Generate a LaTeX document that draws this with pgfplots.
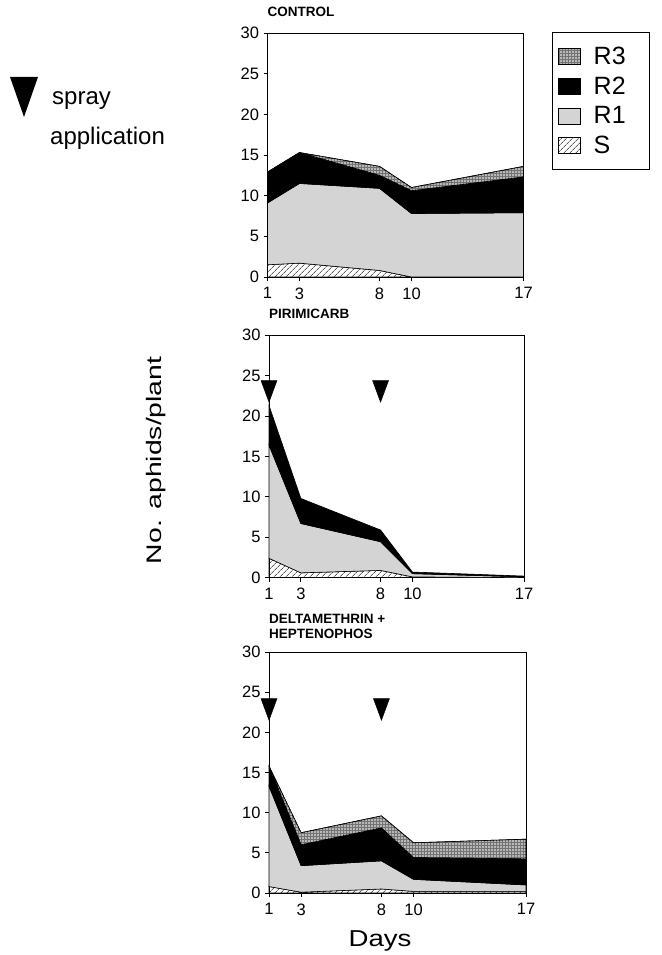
\documentclass[border=0pt]{standalone}
\usepackage{fontspec}
\setmainfont{Liberation Sans}
\usepackage{pgfplots}
\pgfplotsset{compat=1.18}
\usetikzlibrary{patterns,patterns.meta}

\pgfplotsset{
  panel/.style={
    scale only axis,
    xmin=1, xmax=17, ymin=0, ymax=30,
    xtick={1,3,8,10,17}, ytick={0,5,...,30},
    tick align=outside, tick pos=left, major tick length=4pt,
    clip=false,
    axis line style={line width=0.9pt},
    tick style={line width=0.8pt, black},
    tick label style={font=\fontsize{16.5}{17}\selectfont},
    xticklabel style={yshift=-3pt},
    yticklabel style={xshift=-1pt},
    /pgf/number format/assume math mode=true,
    title style={at={(0,1)}, anchor=south west, inner sep=0pt, yshift=10pt,
      font=\bfseries\fontsize{13.5}{15}\selectfont, align=left},
    legend image code/.code={\draw[##1, line width=0.6pt] (0pt,-8pt) rectangle (22pt,8pt);},
  },
  sS/.style={stack plots=y, draw=black, line width=0.6pt,
    pattern={Lines[angle=45,distance=4pt,line width=0.5pt]}},
  sR1/.style={stack plots=y, draw=black, line width=0.6pt, fill=black!17},
  sR2/.style={stack plots=y, draw=black, line width=0.6pt, fill=black},
  sR3/.style={stack plots=y, draw=black, line width=0.6pt, fill=black!55,
    postaction={pattern={Dots[distance=3pt,radius=0.85pt]}, pattern color=white}},
  spray/.style={only marks, mark=triangle*, mark size=14.5pt,
    mark options={rotate=180, xscale=0.64, fill=black, draw=black}},
}

\begin{document}
\begin{tikzpicture}
\path[use as bounding box] (0pt,0pt) rectangle (661pt,955pt);

% spray application key
\fill (10pt,878pt) -- (38pt,878pt) -- (24pt,838pt) -- cycle;
\node[anchor=base west, inner sep=0pt, font=\fontsize{24}{26}\selectfont] at (52pt,850pt) {spray};
\node[anchor=base west, inner sep=0pt, font=\fontsize{24}{26}\selectfont] at (50pt,810pt) {application};

% CONTROL
\begin{axis}[panel, at={(267.5pt,678pt)}, anchor=south west,
  width=256pt, height=244pt, title={CONTROL},
  legend style={at={(1,1)}, anchor=north west, xshift=28pt, yshift=1pt,
    draw=black, line width=1.2pt, font=\fontsize{25}{25}\selectfont,
    inner xsep=6pt, inner ysep=12pt, row sep=7pt,
    nodes={inner sep=2pt}, cells={anchor=west},
    /tikz/every odd column/.append style={column sep=11pt}},
  reverse legend]
\addplot[sS] coordinates {(1,1.5) (3,1.7) (8,0.8) (10,0) (17,0)} \closedcycle;
\addplot[sR1] coordinates {(1,7.6) (3,9.8) (8,10.1) (10,7.8) (17,7.9)} \closedcycle;
\addplot[sR2] coordinates {(1,3.8) (3,3.8) (8,1.6) (10,2.8) (17,4.4)} \closedcycle;
\addplot[sR3] coordinates {(1,0) (3,0) (8,1.1) (10,0.4) (17,1.3)} \closedcycle;
\legend{S,R1,R2,R3\hspace*{16pt}}
\end{axis}

% PIRIMICARB
\begin{axis}[panel, at={(269pt,377.3pt)}, anchor=south west,
  width=255pt, height=242.5pt, title={PIRIMICARB},
  ylabel={No. aphids/plant},
  ylabel style={at={(axis description cs:-0.421,0.484)}, anchor=base,
    font=\fontsize{21}{22}\selectfont, xscale=1.35}]
\addplot[sS] coordinates {(1,2.4) (3,0.6) (8,0.9) (10,0.1) (17,0)} \closedcycle;
\addplot[sR1] coordinates {(1,14.0) (3,6.1) (8,3.55) (10,0.4) (17,0.1)} \closedcycle;
\addplot[sR2] coordinates {(1,4.9) (3,3.1) (8,1.45) (10,0.2) (17,0.1)} \closedcycle;
\addplot[spray] coordinates {(1,23.5) (8,23.5)};
\end{axis}

% DELTAMETHRIN + HEPTENOPHOS
\begin{axis}[panel, at={(269pt,62pt)}, anchor=south west,
  width=257pt, height=241pt, title={DELTAMETHRIN +\\HEPTENOPHOS},
  title style={yshift=-3pt},
  xlabel={Days},
  xlabel style={at={(axis description cs:0.432,-0.22)}, anchor=base,
    font=\fontsize{23}{24}\selectfont, xscale=1.2}]
\addplot[sS] coordinates {(1,0.8) (3,0.1) (8,0.5) (10,0.2) (17,0.2)} \closedcycle;
\addplot[sR1] coordinates {(1,12.5) (3,3.3) (8,3.5) (10,1.5) (17,0.8)} \closedcycle;
\addplot[sR2] coordinates {(1,2.5) (3,2.6) (8,4.1) (10,2.7) (17,3.25)} \closedcycle;
\addplot[sR3] coordinates {(1,0) (3,1.5) (8,1.5) (10,1.85) (17,2.45)} \closedcycle;
\addplot[spray] coordinates {(1,23.3) (8,23.3)};
\end{axis}
\end{tikzpicture}
\end{document}
